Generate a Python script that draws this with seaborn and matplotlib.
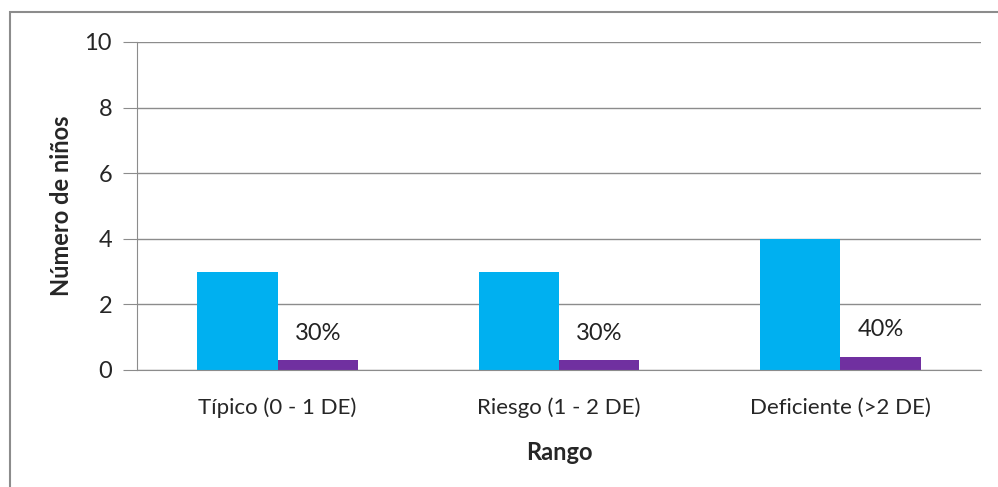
import pandas as pd
import seaborn as sns
import matplotlib.pyplot as plt
from matplotlib.patches import Rectangle

# Datos del gráfico
categorias = ['Típico (0 - 1 DE)', 'Riesgo (1 - 2 DE)', 'Deficiente (>2 DE)']
ninos = [3, 3, 4]
proporcion = [0.3, 0.3, 0.4]
etiquetas = ['30%', '30%', '40%']

dados = pd.DataFrame({
    'Rango': categorias * 2,
    'valor': ninos + proporcion,
    'serie': ['Número'] * 3 + ['Porcentaje'] * 3,
})

sns.set_style('white')
plt.rcParams['font.family'] = ['Lato', 'DejaVu Sans']

fig = plt.figure(figsize=(9.98, 4.87), dpi=100)
ax = fig.add_axes([137 / 998, 1 - 370 / 487, (981 - 137) / 998, (370 - 42) / 487])

sns.barplot(data=dados, x='Rango', y='valor', hue='serie',
            palette=['#00B0F0', '#7030A0'], width=0.57, saturation=1,
            linewidth=0, ax=ax, legend=False)

# Etiquetas de porcentaje sobre las barras moradas
for i, txt in enumerate(etiquetas):
    ax.text(i + 0.1425, proporcion[i] + 0.5, txt, ha='center', va='bottom',
            fontsize=17, color='#222222')

ax.set_ylim(0, 10)
ax.set_xlim(-0.5, 2.5)
ax.set_yticks(range(0, 11, 2))
ax.yaxis.grid(True, color='#8c8c8c', linewidth=1)
ax.set_axisbelow(True)
for s in ['top', 'right']:
    ax.spines[s].set_visible(False)
ax.spines['left'].set_color('#8c8c8c')
ax.spines['bottom'].set_color('#8c8c8c')
ax.tick_params(axis='y', length=10, color='#8c8c8c', labelsize=17, pad=8, left=True)
ax.tick_params(axis='x', length=0, labelsize=16, pad=20)
ax.set_xlabel('Rango', fontsize=17, fontweight='bold', labelpad=16)
ax.set_ylabel('Número de niños', fontsize=17, fontweight='bold', labelpad=8)

# Marco exterior (cortado a la derecha y abajo)
fig.patches.append(Rectangle((10 / 998, -10 / 487), 1000 / 998, 485 / 487,
                             transform=fig.transFigure, fill=False,
                             edgecolor='#8c8c8c', linewidth=1.5))

fig.savefig('out.png', dpi=100)
